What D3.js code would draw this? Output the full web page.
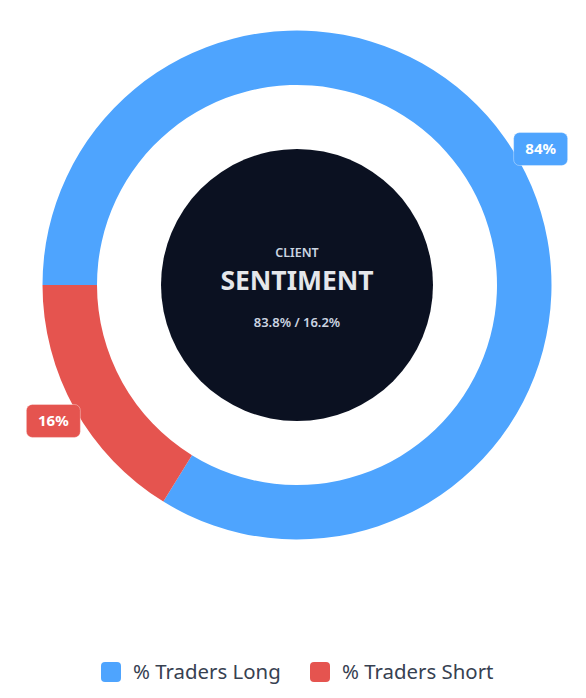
<!DOCTYPE html>
<html>
<head>
<meta charset="utf-8">
<script src="https://cdn.jsdelivr.net/npm/d3@7"></script>
<style>
  body { margin: 0; background: #fff; }
  svg { display: block; font-family: "Noto Sans", "Open Sans", sans-serif; }
</style>
</head>
<body>
<div id="chart"></div>
<script>
// Data
const categories = ["% Traders Long", "% Traders Short"];
const values = [83.8, 16.2];
const labels = ["84%", "16%"];
const colors = ["#4ea4fe", "#e5544f"];

const width = 586, height = 698;
const cx = 297, cy = 285;
const outerR = 254.5, innerR = 200, coreR = 136;

const svg = d3.select("#chart").append("svg")
  .attr("width", width)
  .attr("height", height);

const g = svg.append("g")
  .attr("transform", `translate(${cx},${cy})`);

// pie starts at 9 o'clock, goes clockwise
const pie = d3.pie()
  .sort(null)
  .value(d => d.value)
  .startAngle(-Math.PI / 2)
  .endAngle(Math.PI * 1.5);

const data = categories.map((c, i) => ({ name: c, value: values[i], label: labels[i], color: colors[i] }));
const arcs = pie(data);

const arc = d3.arc().innerRadius(innerR).outerRadius(outerR);
const labelArc = d3.arc().innerRadius(279).outerRadius(279);

g.selectAll(".slice")
  .data(arcs)
  .join("path")
  .attr("class", "slice")
  .attr("d", arc)
  .attr("fill", d => d.data.color);

// center disc
g.append("circle")
  .attr("r", coreR)
  .attr("fill", "#0b1121");

g.append("text")
  .attr("y", -28)
  .attr("text-anchor", "middle")
  .attr("font-size", 12.5)
  .attr("font-weight", 600)
  .attr("fill", "#cbd5e1")
  .text("CLIENT");

g.append("text")
  .attr("y", 5)
  .attr("text-anchor", "middle")
  .attr("font-size", 26.5)
  .attr("font-weight", 700)
  .attr("fill", "#e5e7eb")
  .text("SENTIMENT");

g.append("text")
  .attr("y", 42)
  .attr("text-anchor", "middle")
  .attr("font-size", 13)
  .attr("font-weight", 600)
  .attr("fill", "#cbd5e1")
  .text(values.map(v => v.toFixed(1) + "%").join(" / "));

// value badges
const badge = g.selectAll(".badge")
  .data(arcs)
  .join("g")
  .attr("class", "badge")
  .attr("transform", d => `translate(${labelArc.centroid(d)})`);

badge.append("rect")
  .attr("x", -27)
  .attr("y", -16.5)
  .attr("width", 54)
  .attr("height", 33)
  .attr("rx", 6)
  .attr("fill", d => d.data.color)
  .attr("stroke", "rgba(255,255,255,0.35)")
  .attr("stroke-width", 1);

badge.append("text")
  .attr("text-anchor", "middle")
  .attr("dy", "0.35em")
  .attr("font-size", 15)
  .attr("font-weight", 700)
  .attr("fill", "#fff")
  .text(d => d.data.label);

// legend
const legendX = [101, 310];
const legend = svg.append("g")
  .attr("transform", "translate(0,672)");

const item = legend.selectAll(".item")
  .data(data)
  .join("g")
  .attr("class", "item")
  .attr("transform", (d, i) => `translate(${legendX[i]},0)`);

item.append("rect")
  .attr("x", 0)
  .attr("y", -10)
  .attr("width", 20)
  .attr("height", 20)
  .attr("rx", 4)
  .attr("fill", d => d.color);

item.append("text")
  .attr("x", 32)
  .attr("dy", "0.35em")
  .attr("font-size", 20.4)
  .attr("fill", "#374151")
  .text(d => d.name);
</script>
</body>
</html>
